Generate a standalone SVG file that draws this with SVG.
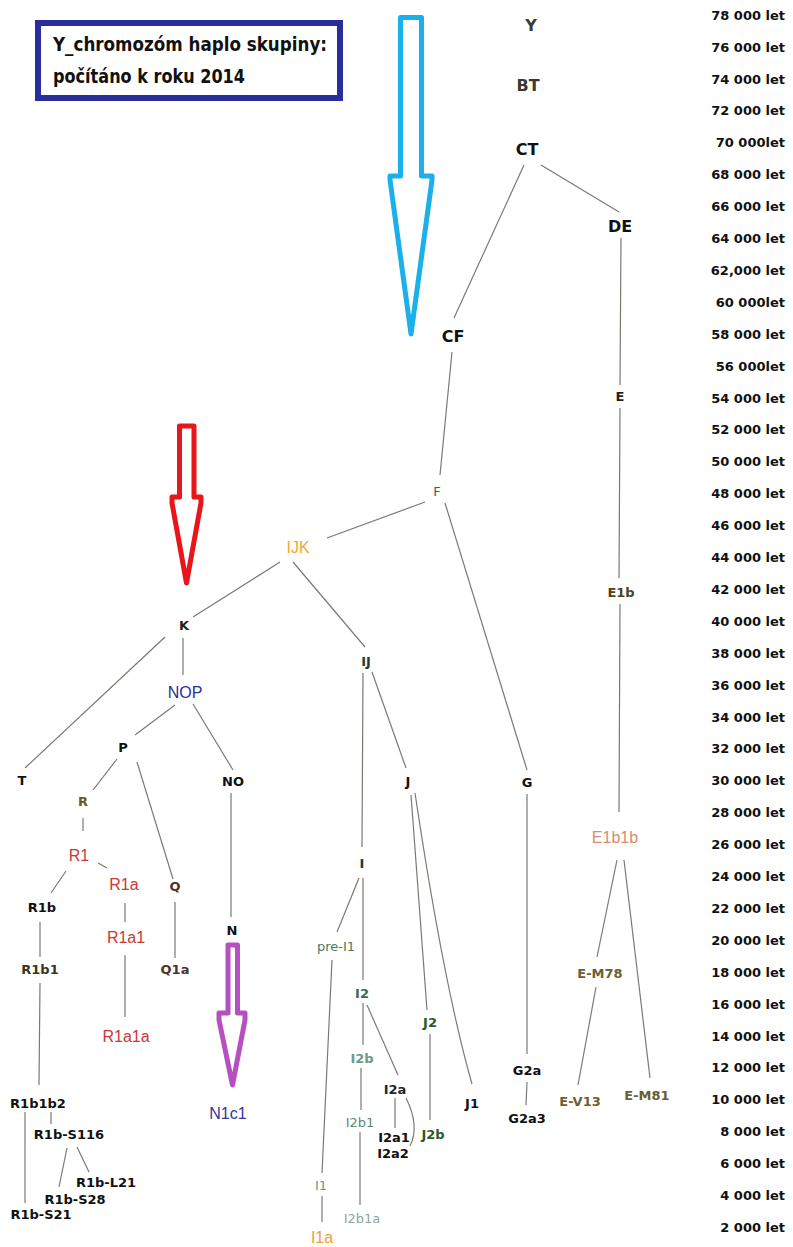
<svg xmlns="http://www.w3.org/2000/svg" width="793" height="1247" viewBox="0 0 793 1247">
<style>
text{font-family:"DejaVu Sans","Liberation Sans",sans-serif;text-anchor:middle}
.b{font-weight:bold;font-size:13px}
.big{font-weight:bold;font-size:16px}
.s{font-weight:normal;font-size:13px}
.lg{font-family:"Liberation Sans","DejaVu Sans",sans-serif;font-weight:normal;font-size:16px}
.ax{font-weight:bold;font-size:13px;text-anchor:end;fill:#111}
.red{fill:#c83838}
.blk{fill:#111}
.olv{fill:#6a6030}
.grn{fill:#2a5a2a}
.tl{font-family:"Liberation Sans Narrow","DejaVu Sans Condensed","Liberation Sans",sans-serif;font-weight:bold;font-size:20px;text-anchor:start;fill:#111}
#connectors line,#connectors path{stroke:#7a7a72;stroke-width:1.2;fill:none}
.arrow{fill:#fff;stroke-linejoin:round;stroke-width:5}
</style>
<rect width="793" height="1247" fill="#fff"/>

<g id="title">
<rect x="38" y="23" width="302" height="75" fill="#fff" stroke="#2b2d9c" stroke-width="6"/>
<text class="tl" x="53" y="51" textLength="274" lengthAdjust="spacingAndGlyphs">Y_chromozóm haplo skupiny:</text>
<text class="tl" x="53" y="83" textLength="192" lengthAdjust="spacingAndGlyphs">počítáno k roku 2014</text>
</g>

<g id="arrows">
<path id="arrow-blue" class="arrow" stroke="#1ab0ea" d="M400.5,17.5 H421.5 V176 H432 V180 L411,334 L390,180 V176 H400.5 Z"/>
<path id="arrow-red" class="arrow" stroke="#e8151b" d="M179.5,426 H194 V497 H201 V503 L186.5,583 L172,503 V497 H179.5 Z"/>
<path id="arrow-purple" class="arrow" stroke="#b64fc0" stroke-width="3.5" d="M228,945 H237.5 V1013 H245 V1020 L232.5,1085 L219,1020 V1013 H228 Z"/>
</g>

<g id="axis">
<text class="ax" x="785" y="19.7">78 000 let</text>
<text class="ax" x="785" y="51.6">76 000 let</text>
<text class="ax" x="785" y="83.5">74 000 let</text>
<text class="ax" x="785" y="115.4">72 000 let</text>
<text class="ax" x="785" y="147.3">70 000let</text>
<text class="ax" x="785" y="179.2">68 000 let</text>
<text class="ax" x="785" y="211.1">66 000 let</text>
<text class="ax" x="785" y="243">64 000 let</text>
<text class="ax" x="785" y="274.9">62,000 let</text>
<text class="ax" x="785" y="306.8">60 000let</text>
<text class="ax" x="785" y="338.7">58 000 let</text>
<text class="ax" x="785" y="370.6">56 000let</text>
<text class="ax" x="785" y="402.5">54 000 let</text>
<text class="ax" x="785" y="434.4">52 000 let</text>
<text class="ax" x="785" y="466.3">50 000 let</text>
<text class="ax" x="785" y="498.2">48 000 let</text>
<text class="ax" x="785" y="530.1">46 000 let</text>
<text class="ax" x="785" y="562">44 000 let</text>
<text class="ax" x="785" y="593.9">42 000 let</text>
<text class="ax" x="785" y="625.8">40 000 let</text>
<text class="ax" x="785" y="657.7">38 000 let</text>
<text class="ax" x="785" y="689.6">36 000 let</text>
<text class="ax" x="785" y="721.5">34 000 let</text>
<text class="ax" x="785" y="753.4">32 000 let</text>
<text class="ax" x="785" y="785.3">30 000 let</text>
<text class="ax" x="785" y="817.2">28 000 let</text>
<text class="ax" x="785" y="849.1">26 000 let</text>
<text class="ax" x="785" y="881">24 000 let</text>
<text class="ax" x="785" y="912.9">22 000 let</text>
<text class="ax" x="785" y="944.8">20 000 let</text>
<text class="ax" x="785" y="976.7">18 000 let</text>
<text class="ax" x="785" y="1008.6">16 000 let</text>
<text class="ax" x="785" y="1040.5">14 000 let</text>
<text class="ax" x="785" y="1072.4">12 000 let</text>
<text class="ax" x="785" y="1104.3">10 000 let</text>
<text class="ax" x="785" y="1136.2">8 000 let</text>
<text class="ax" x="785" y="1168.1">6 000 let</text>
<text class="ax" x="785" y="1200">4 000 let</text>
<text class="ax" x="785" y="1231.9">2 000 let</text>
</g>

<g id="connectors">
<line x1="524" y1="165" x2="454" y2="318"/>
<line x1="541" y1="165" x2="619" y2="212"/>
<line x1="621" y1="238" x2="620" y2="385"/>
<line x1="452" y1="352" x2="440" y2="475"/>
<line x1="620" y1="408" x2="619" y2="578"/>
<line x1="620" y1="604" x2="619" y2="812"/>
<line x1="425" y1="502" x2="327" y2="538"/>
<line x1="445" y1="503" x2="527" y2="770"/>
<line x1="280" y1="562" x2="193" y2="617"/>
<line x1="293" y1="562" x2="365" y2="647"/>
<line x1="165" y1="637" x2="25" y2="768"/>
<line x1="183" y1="638" x2="183" y2="675"/>
<line x1="175" y1="705" x2="135" y2="735"/>
<line x1="193" y1="704" x2="233" y2="770"/>
<line x1="117" y1="759" x2="93" y2="790"/>
<line x1="137" y1="762" x2="173" y2="879"/>
<line x1="83" y1="818" x2="83" y2="831"/>
<line x1="98" y1="863" x2="107" y2="868"/>
<line x1="66" y1="871" x2="51" y2="893"/>
<line x1="125" y1="903" x2="125" y2="922"/>
<line x1="125" y1="955" x2="125" y2="1017"/>
<line x1="175" y1="902" x2="175" y2="958"/>
<line x1="40" y1="922" x2="40" y2="957"/>
<line x1="40" y1="983" x2="39" y2="1085"/>
<line x1="25" y1="1112" x2="25" y2="1203"/>
<line x1="51" y1="1112" x2="51" y2="1124"/>
<line x1="67" y1="1148" x2="59" y2="1187"/>
<line x1="77" y1="1147" x2="89" y2="1172"/>
<line x1="231" y1="793" x2="231" y2="917"/>
<line x1="363" y1="673" x2="362" y2="847"/>
<line x1="372" y1="672" x2="406" y2="768"/>
<line x1="411" y1="795" x2="427" y2="1010"/>
<path d="M415,793 C428,880 448,1000 472,1084"/>
<line x1="430" y1="1034" x2="430" y2="1120"/>
<line x1="359" y1="878" x2="337" y2="932"/>
<line x1="363" y1="878" x2="363" y2="980"/>
<line x1="332" y1="960" x2="322" y2="1173"/>
<line x1="322" y1="1196" x2="322" y2="1222"/>
<line x1="363" y1="1003" x2="363" y2="1045"/>
<line x1="367" y1="1005" x2="398" y2="1075"/>
<line x1="361" y1="1068" x2="361" y2="1110"/>
<line x1="360" y1="1132" x2="360" y2="1205"/>
<line x1="395" y1="1098" x2="395" y2="1128"/>
<path d="M406,1098 Q420,1126 410,1146"/>
<line x1="527" y1="794" x2="527" y2="1054"/>
<line x1="527" y1="1082" x2="526" y2="1105"/>
<line x1="617" y1="860" x2="597" y2="957"/>
<line x1="624" y1="860" x2="650" y2="1078"/>
<line x1="596" y1="987" x2="578" y2="1085"/>
</g>

<g id="node-Y"><text class="big" x="531" y="31" fill="#3a3a3a">Y</text></g>
<g id="node-BT"><text class="big" x="528" y="91" fill="#3a3a30">BT</text></g>
<g id="node-CT"><text class="big" x="527" y="155" fill="#111">CT</text></g>
<g id="node-DE"><text class="big" x="620" y="232" fill="#111">DE</text></g>
<g id="node-CF"><text class="big" x="453" y="342" fill="#111">CF</text></g>
<g id="node-E"><text class="b" x="620" y="401" fill="#222">E</text></g>
<g id="node-F"><text class="s" x="437" y="496" fill="#555" font-size="12">F</text></g>
<g id="node-E1b"><text class="b" x="621" y="596.5" fill="#4a4420" font-size="12">E1b</text></g>
<g id="node-IJK"><text class="lg" x="298" y="553" fill="#f0a830">IJK</text></g>
<g id="node-K"><text class="b" x="184" y="629.5" fill="#222" font-size="12">K</text></g>
<g id="node-IJ"><text class="b" x="366" y="665.5" fill="#2a3a2a" font-size="12">IJ</text></g>
<g id="node-NOP"><text class="lg" x="185" y="698" fill="#2c2c9c">NOP</text></g>
<g id="node-P"><text class="b blk" x="123" y="752">P</text></g>
<g id="node-T"><text class="b blk" x="22" y="785" font-size="11">T</text></g>
<g id="node-NO"><text class="b blk" x="233" y="786">NO</text></g>
<g id="node-J"><text class="b blk" x="408" y="786" font-size="11">J</text></g>
<g id="node-G"><text class="b blk" x="527" y="786.5" font-size="12">G</text></g>
<g id="node-R"><text class="b" x="83" y="805.5" fill="#6a5a28" font-size="12">R</text></g>
<g id="node-E1b1b"><text class="lg" x="615" y="843" fill="#d88c6c" font-size="17">E1b1b</text></g>
<g id="node-R1"><text class="lg red" x="79" y="861" font-size="17">R1</text></g>
<g id="node-I"><text class="b" x="362" y="868" fill="#333" font-size="11">I</text></g>
<g id="node-R1a"><text class="lg red" x="124" y="890">R1a</text></g>
<g id="node-Q"><text class="b" x="175" y="890.5" fill="#4a3535" font-size="12">Q</text></g>
<g id="node-R1b"><text class="b blk" x="42" y="911.5" font-size="12">R1b</text></g>
<g id="node-N"><text class="b blk" x="232" y="934.5" font-size="12">N</text></g>
<g id="node-R1a1"><text class="lg red" x="126" y="943">R1a1</text></g>
<g id="node-pre-I1"><text class="s" x="336" y="950.5" fill="#4a7a66">pre-I1</text></g>
<g id="node-R1b1"><text class="b" x="40" y="973.5" fill="#3a3520" font-size="12">R1b1</text></g>
<g id="node-Q1a"><text class="b" x="175" y="973.5" fill="#4a3535">Q1a</text></g>
<g id="node-E-M78"><text class="b olv" x="600" y="977.5">E-M78</text></g>
<g id="node-I2"><text class="b" x="362" y="997.5" fill="#3a6a5a" font-size="12">I2</text></g>
<g id="node-J2"><text class="b grn" x="430" y="1026.5" font-size="12">J2</text></g>
<g id="node-R1a1a"><text class="lg red" x="126" y="1042" font-size="17">R1a1a</text></g>
<g id="node-I2b"><text class="b" x="362" y="1062.5" fill="#6a9a8a" font-size="12">I2b</text></g>
<g id="node-G2a"><text class="b blk" x="527" y="1074.5">G2a</text></g>
<g id="node-I2a"><text class="b" x="395" y="1093.5" fill="#1a2a2a">I2a</text></g>
<g id="node-E-M81"><text class="b olv" x="647" y="1099.5">E-M81</text></g>
<g id="node-E-V13"><text class="b olv" x="580" y="1105.5">E-V13</text></g>
<g id="node-J1"><text class="b blk" x="472" y="1107.5" font-size="12">J1</text></g>
<g id="node-R1b1b2"><text class="b blk" x="38" y="1107.5">R1b1b2</text></g>
<g id="node-N1c1"><text class="lg" x="228" y="1119" fill="#3535a0" font-size="17">N1c1</text></g>
<g id="node-G2a3"><text class="b blk" x="527" y="1122.5">G2a3</text></g>
<g id="node-I2b1"><text class="s" x="360" y="1126.5" fill="#5a8a7a">I2b1</text></g>
<g id="node-R1b-S116"><text class="b blk" x="69" y="1138.5">R1b-S116</text></g>
<g id="node-J2b"><text class="b grn" x="433" y="1138.5">J2b</text></g>
<g id="node-I2a1"><text class="b blk" x="394" y="1141.5">I2a1</text></g>
<g id="node-I2a2"><text class="b blk" x="393" y="1157.5">I2a2</text></g>
<g id="node-R1b-L21"><text class="b blk" x="106" y="1186.5">R1b-L21</text></g>
<g id="node-I1"><text class="s" x="321" y="1190" fill="#6a9a8a" font-size="11">I1</text></g>
<g id="node-R1b-S28"><text class="b blk" x="75" y="1203.5">R1b-S28</text></g>
<g id="node-R1b-S21"><text class="b blk" x="41" y="1218.5">R1b-S21</text></g>
<g id="node-I2b1a"><text class="s" x="362" y="1222.5" fill="#8aa6a0">I2b1a</text></g>
<g id="node-I1a"><text class="lg" x="322" y="1243" fill="#f0a030">I1a</text></g>
</svg>
